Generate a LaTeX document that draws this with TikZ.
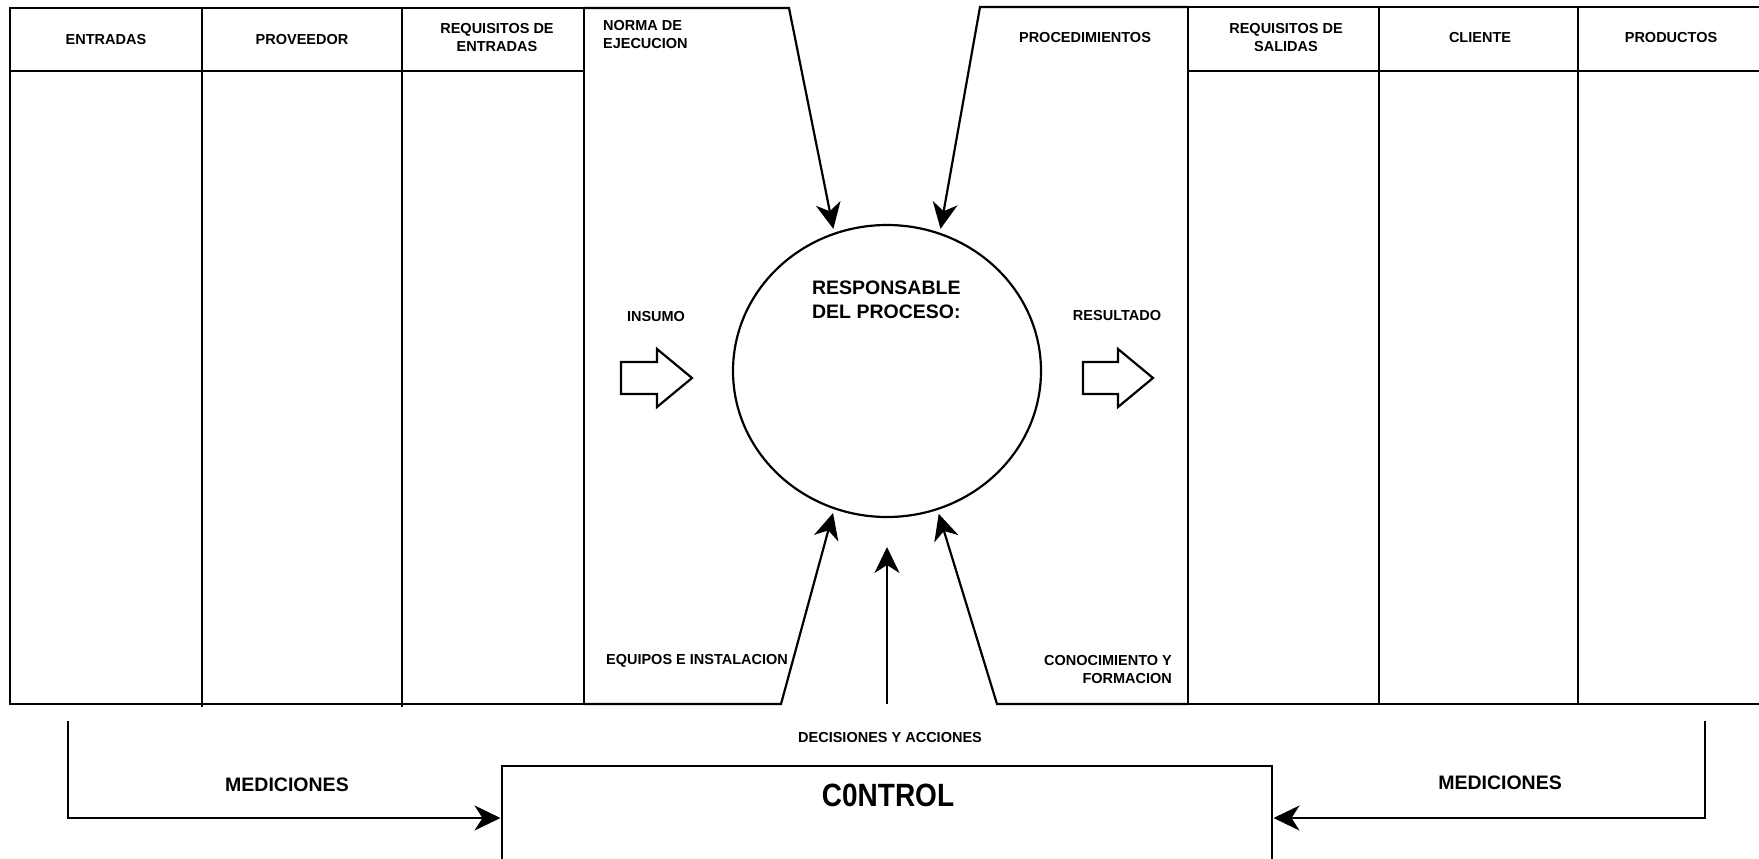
\documentclass[tikz,border=0pt]{standalone}
\usepackage{fontspec}
\setmainfont{Liberation Sans}
\usetikzlibrary{arrows.meta,shapes.geometric}

\begin{document}
\begin{tikzpicture}[x=1pt,y=-1pt, line width=2.2pt, line join=miter,
  lbl/.style={font=\bfseries\fontsize{14.5}{18}\selectfont, inner sep=0pt, align=center},
  big/.style={font=\bfseries\fontsize{19.5}{24}\selectfont, inner sep=0pt},
  arr/.style={-{Stealth[length=26pt,width=25pt,inset=8pt]}},
  blockarrow/.style={draw, line width=2.2pt, fill=white},
  ]
\useasboundingbox (0,0) rectangle (1759,859);
\clip (0,0) rectangle (1759,859);

% process circle and control box
\node[draw, ellipse, minimum width=308pt, minimum height=292pt, inner sep=0pt, outer sep=0pt] (circ) at (887,371) {};
\node[draw, minimum width=770pt, minimum height=104pt, inner sep=0pt, outer sep=0pt] (ctrl) at (887,818) {};

% corner points of the central frame
\coordinate (normaTop) at (789,8);
\coordinate (procTop) at (980,7);
\coordinate (equiposFoot) at (781,704);
\coordinate (conocFoot) at (997,704);
\coordinate (decFoot) at (887,704);
\coordinate (decTip) at (887,547);
\coordinate (medL) at (68,721);
\coordinate (medR) at (1705,721);

% left table
\draw (584,8) -- (10,8) -- (10,704) -- (584,704);
\draw (584,8) -- (584,704);
\draw (10,71) -- (584,71);
\draw (202,8) -- (202,707);
\draw (402,8) -- (402,707);

% right table
\draw (1759,7) -- (1188,7) -- (1188,704) -- (1759,704);
\draw (1188,71) -- (1759,71);
\draw (1379,7) -- (1379,704);
\draw (1578,7) -- (1578,704);

% arrows into the process
\draw[arr, shorten >=5pt] (584,8) -- (normaTop) -- (circ.111);
\draw[arr, shorten >=5pt] (1188,7) -- (procTop) -- (circ.69.6);
\draw[arr, shorten >=5pt] (584,704) -- (equiposFoot) -- (circ.249);
\draw[arr, shorten >=5pt] (1188,704) -- (conocFoot) -- (circ.290.5);
\draw[arr] (decFoot) -- (decTip);

% measurement loops into control
\draw[arr] (medL) |- ([xshift=-1.5pt]ctrl.west);
\draw[arr] (medR) |- ([xshift=1.5pt]ctrl.east);

% input / output block arrows
\draw[blockarrow] (621,362) -- (657,362) -- (657,349) -- (692,378) -- (657,407) -- (657,394) -- (621,394) -- cycle;
\draw[blockarrow] (1083,362) -- (1118,362) -- (1118,349) -- (1153,378) -- (1118,407) -- (1118,394) -- (1083,394) -- cycle;

% header labels
\node[lbl] (hEnt) at (106,40) {ENTRADAS};
\node[lbl] (hProv) at (302,40) {PROVEEDOR};
\node[lbl] (hReqE) at (497,38) {REQUISITOS DE\\ENTRADAS};
\node[lbl, anchor=west, align=left] (hNorma) at (602,35) {NORMA DE\\EJECUCION};
\node[lbl] (hProc) at (1085,38) {PROCEDIMIENTOS};
\node[lbl] (hReqS) at (1286,38) {REQUISITOS DE\\SALIDAS};
\node[lbl] (hCli) at (1480,38) {CLIENTE};
\node[lbl] (hProd) at (1671,38) {PRODUCTOS};

% labels around the process
\node[big, anchor=west, align=left] (resp) at (811,300) {RESPONSABLE\\DEL PROCESO:};
\node[lbl] (insumo) at (656,317) {INSUMO};
\node[lbl] (resultado) at (1117,316) {RESULTADO};
\node[lbl, anchor=west] (equipos) at (605,661) {EQUIPOS E INSTALACION};
\node[lbl, anchor=east, align=right] (conoc) at (1173,670) {CONOCIMIENTO Y\\FORMACION};
\node[lbl] (decis) at (890,738) {DECISIONES Y ACCIONES};
\node[big] (medLbl) at (287,785) {MEDICIONES};
\node[big] (medRbl) at (1500,783) {MEDICIONES};
\node[font=\bfseries\fontsize{28}{34}\selectfont, inner sep=0pt] (ctrlLbl) at (888,795) {\scalebox{1}[1.15]{C0NTROL}};
\end{tikzpicture}
\end{document}
